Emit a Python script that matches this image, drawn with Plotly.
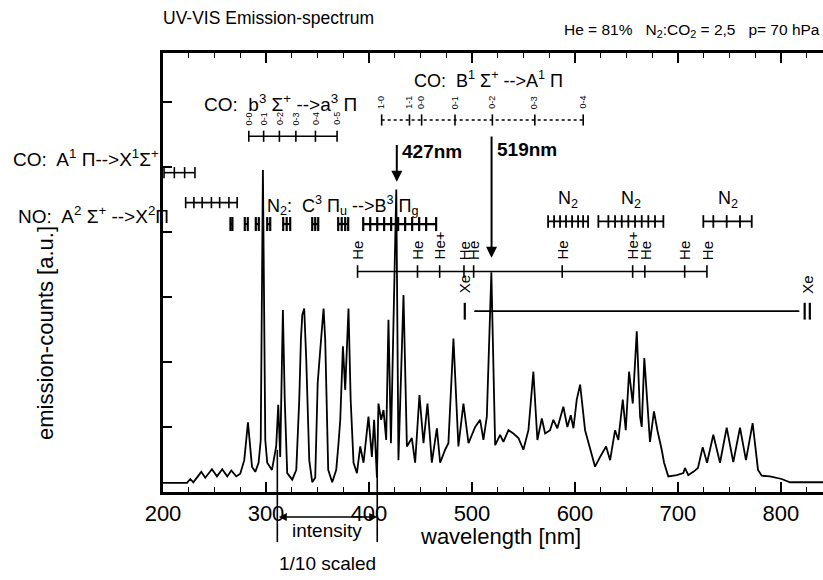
import plotly.graph_objects as go

# spectrum (wavelength in nm, counts in a.u.)
wl = [200, 223.3, 226.5, 229.4, 237.2, 241.0, 247.5, 252.4, 257.5, 262.4,
      266.3, 271.1, 275.0, 278.9, 282.5, 286.4, 289.6, 292.8, 294.9, 297.0,
      299.3, 301.2, 305.8, 309.9, 311.9, 313.8, 316.4, 318.2, 320.6, 325.5,
      329.4, 332.3, 333.9, 335.2, 337.1, 339.1, 342.0, 344.9, 347.8, 350.2,
      353.3, 355.9, 357.5, 360.4, 364.3, 368.2, 370.4, 372.1, 374.7, 376.9,
      380.1, 382.2, 385.0, 388.3, 391.5, 394.7, 399.5, 402.8, 405.0, 407.7,
      409.2, 411.8, 414.1, 416.7, 418.9, 421.3, 426.5, 428.6, 433.5, 436.8,
      441.6, 444.8, 449.0, 452.9, 456.8, 461.0, 465.9, 469.1, 473.9, 477.1,
      482.0, 486.8, 491.7, 496.6, 503.1, 507.9, 511.1, 514.4, 518.8, 522.5,
      527.3, 530.5, 535.4, 540.2, 545.1, 549.9, 554.8, 559.6, 563.5, 567.8,
      571.0, 575.8, 579.0, 582.9, 588.7, 592.6, 595.9, 598.5, 601.7, 605.0,
      609.8, 614.7, 619.5, 624.4, 630.2, 634.1, 638.9, 642.1, 646.4, 649.3,
      652.5, 656.1, 660.0, 663.2, 664.8, 667.3, 672.8, 676.7, 680.0, 684.2,
      686.5, 690.6, 698.8, 705.2, 706.8, 710.0, 714.9, 719.4, 724.0, 728.2,
      734.3, 740.8, 747.3, 753.7, 760.2, 766.0, 772.5, 777.7, 781.3, 789.3,
      800.7, 808.7, 840.8]
counts = [1.4, 1.4, 2.0, 1.5, 3.1, 2.2, 3.5, 2.4, 3.5, 2.4,
          3.3, 2.4, 2.8, 4.9, 10.7, 3.9, 3.1, 4.5, 8.0, 49.5,
          8.0, 4.5, 3.4, 7.0, 13.4, 5.4, 28.0, 14.2, 2.9, 1.9,
          3.4, 14.2, 23.4, 27.2, 28.2, 20.3, 4.9, 1.5, 2.2, 16.8,
          23.1, 28.2, 23.4, 3.4, 1.5, 3.4, 7.5, 11.1, 22.4, 15.7,
          28.2, 14.2, 4.5, 2.9, 7.0, 4.5, 11.6, 5.4, 11.1, 2.2,
          13.6, 11.1, 12.6, 8.0, 26.5, 7.5, 46.5, 4.9, 30.3, 7.0,
          8.3, 4.5, 14.9, 7.5, 13.6, 4.5, 9.8, 4.5, 6.5, 7.5,
          23.6, 7.0, 13.6, 7.5, 10.0, 11.1, 8.0, 11.6, 33.8, 7.2,
          8.8, 7.7, 9.5, 9.0, 8.3, 6.5, 9.5, 18.5, 8.0, 11.3,
          9.0, 9.5, 11.1, 9.8, 13.1, 10.0, 11.8, 9.8, 14.2, 16.5,
          9.5, 6.5, 3.9, 5.4, 7.0, 4.9, 9.5, 8.0, 14.2, 9.5,
          18.5, 13.6, 24.7, 11.6, 10.0, 20.6, 7.7, 12.4, 9.5, 6.5,
          4.5, 2.4, 2.6, 2.9, 3.7, 2.6, 3.1, 3.7, 6.9, 4.5,
          8.8, 4.5, 9.9, 4.6, 9.9, 4.9, 10.6, 3.4, 2.5, 2.4,
          2.0, 1.5, 1.5]

# band / line assignments (nm)
co_ax = [201, 211, 221, 231]
no_ax = [222, 230, 238, 247, 255, 264, 272]
n2_cb_groups = [[265.5, 267.4], [279.4, 282.3], [290.1, 293.0], [301.2, 304.1],
                [316.7, 320.1, 323.5], [344.9, 347.8, 350.7],
                [370.1, 373.5, 376.9, 379.8],
                [394.4, 401.2, 408.0, 414.7, 421.5, 428.3, 435.1, 441.9, 448.7, 455.5, 465.2]]
n2_fp_groups = [[573.9, 579.7, 585.5, 591.3, 597.2, 603.0, 607.9, 612.7],
                [622.7, 632.4, 638.9, 645.4, 651.8, 658.3, 664.8, 671.2, 677.7, 685.8],
                [724.6, 734.3, 747.3, 760.2, 771.6]]
co_ba_pos = [283.3, 297.7, 313.0, 329.0, 348.0, 369.0]
co_ba_lab = ["0-0", "0-1", "0-2", "0-3", "0-4", "0-5"]
co_angstrom_pos = [412.3, 439.3, 451.1, 483.5, 519.8, 561.0, 608.0]
co_angstrom_lab = ["1-0", "1-1", "0-0", "0-1", "0-2", "0-3", "0-4"]
he_pos = [388.9, 447.1, 468.6, 492.2, 501.6, 587.6, 656.0, 667.8, 706.5, 728.1]
he_lab = ["He", "He", "He+", "He", "He", "He", "He+", "He", "He", "He"]
xe_pos = [493.0, 823.0, 828.0]
xe_span = [503.0, 817.0]
marked = [427, 519]
scaled_range = [311, 408]

x_max = 840.8
y_max = 67.5
FONT = "Liberation Sans, Arial, sans-serif"

fig = go.Figure()

fig.add_trace(go.Scatter(x=wl, y=counts, mode="lines",
                         line=dict(color="black", width=1.8)))


def tick_row(xs, y, size=8, width=1.6, dash="solid"):
    fig.add_trace(go.Scatter(x=[min(xs), max(xs)], y=[y, y], mode="lines",
                             line=dict(color="black", width=width, dash=dash)))
    fig.add_trace(go.Scatter(x=xs, y=[y] * len(xs), mode="markers", cliponaxis=False,
                             marker=dict(symbol="line-ns", size=size,
                                         line=dict(width=width, color="black"))))


tick_row(co_ax, 49.1)
tick_row(no_ax, 44.5)
for g in n2_cb_groups:
    tick_row(g, 41.2, size=10, width=2.2)
for g in n2_fp_groups:
    tick_row(g, 41.6, size=9, width=1.8)
tick_row(co_ba_pos, 54.7)
tick_row(co_angstrom_pos, 57.2, dash="dot")
tick_row(he_pos, 33.9, size=9)
tick_row(xe_span, 27.8, size=1, width=1.8)
fig.add_trace(go.Scatter(x=xe_pos, y=[27.8] * len(xe_pos), mode="markers", cliponaxis=False,
                         marker=dict(symbol="line-ns", size=12,
                                     line=dict(width=2.2, color="black"))))

ann = []


def txt(x, y, s, size=16, xref="x", yref="y", xanchor="center", yanchor="middle",
        angle=0, bold=False):
    ann.append(dict(x=x, y=y, xref=xref, yref=yref, text=s, showarrow=False,
                    xanchor=xanchor, yanchor=yanchor, textangle=angle,
                    font=dict(family=FONT, size=size, color="black",
                              weight="bold" if bold else "normal")))


for p, l in zip(co_ba_pos, co_ba_lab):
    txt(p, 56.1, l, size=9, yanchor="bottom", angle=-90)
for p, l in zip(co_angstrom_pos, co_angstrom_lab):
    txt(p, 58.6, l, size=9, yanchor="bottom", angle=-90)
for p, l in zip(he_pos, he_lab):
    txt(p, 35.4, l, size=15, yanchor="bottom", angle=-90)
txt(xe_pos[0], 30.2, "Xe", size=15, yanchor="bottom", angle=-90)
txt((xe_pos[1] + xe_pos[2]) / 2, 30.2, "Xe", size=15, yanchor="bottom", angle=-90)

for g in n2_fp_groups:
    txt((min(g) + max(g)) / 2, 45.0, "N<sub>2</sub>", size=18)

txt(237.8, 59.8, "CO:  b<sup>3</sup> Σ<sup>+</sup> -->a<sup>3</sup> Π", size=19, xanchor="left")
txt(441.6, 63.4, "CO:  B<sup>1</sup> Σ<sup>+</sup> -->A<sup>1</sup> Π", size=18, xanchor="left")
txt(299.4, 44.0, "N<sub>2</sub>:  C<sup>3</sup> Π<sub>u</sub> -->B<sup>3</sup> Π<sub>g</sub>",
    size=18, xanchor="left")
txt(-0.003, 51.3, "CO:  A<sup>1</sup> Π-->X<sup>1</sup>Σ<sup>+</sup>", size=19,
    xref="paper", xanchor="right")
txt(0.012, 42.6, "NO:  A<sup>2</sup> Σ<sup>+</sup> -->X<sup>2</sup>Π", size=19,
    xref="paper", xanchor="right")

# marked lines with arrows
txt(marked[0] + 3, 52.3, "427nm", size=19, xanchor="left", bold=True)
txt(marked[1] + 3, 52.6, "519nm", size=19, xanchor="left", bold=True)
for m, top, tip in zip(marked, [53.6, 54.9], [47.7, 36.0]):
    ann.append(dict(x=m, y=tip, ax=m, ay=top, xref="x", yref="y", axref="x", ayref="y",
                    text="", showarrow=True, arrowhead=2, arrowsize=1.1,
                    arrowwidth=2, arrowcolor="black"))

# intensity scaled bracket under the axis
fx = [(v - 200) / (x_max - 200) for v in scaled_range]
shapes = [dict(type="line", xref="paper", yref="paper", x0=f, x1=f, y0=0.096, y1=-0.114,
               line=dict(color="black", width=1.6)) for f in fx]
ann.append(dict(x=scaled_range[1], y=-0.057, ax=scaled_range[0], ay=0, xref="x", yref="paper",
                axref="x", ayref="pixel", text="", showarrow=True, arrowhead=2,
                startarrowhead=2, arrowside="end+start", arrowsize=1, arrowwidth=1.6,
                arrowcolor="black"))
txt(sum(fx) / 2, -0.088, "intensity", size=19, xref="paper", yref="paper")
txt(sum(fx) / 2, -0.162, "1/10 scaled", size=19, xref="paper", yref="paper")

# axis titles, title and conditions
txt(0.511, -0.102, "wavelength [nm]", size=22, xref="paper", yref="paper")
txt(-0.179, 0.362, "emission-counts [a.u.]", size=22, xref="paper", yref="paper", angle=-90)
txt(1.0, 1.052, "He = 81%   N<sub>2</sub>:CO<sub>2</sub> = 2,5   p= 70 hPa", size=15.5,
    xref="paper", yref="paper", xanchor="right")
ann[-1]["xshift"] = -1

fig.update_layout(
    width=823, height=580,
    margin=dict(l=163, r=0, t=53, b=88),
    paper_bgcolor="white", plot_bgcolor="white",
    showlegend=False,
    title=dict(text="UV-VIS Emission-spectrum", x=163 / 823, xanchor="left",
               y=1 - 18 / 580, yanchor="middle",
               font=dict(family=FONT, size=17.5, color="black")),
    xaxis=dict(range=[200, x_max], tickvals=[200, 300, 400, 500, 600, 700, 800],
               ticks="inside", ticklen=10, tickwidth=1.6, tickcolor="black",
               minor=dict(dtick=25, tick0=200, ticks="inside", ticklen=5, tickwidth=1.4,
                          tickcolor="black"),
               showline=True, linewidth=2.5, linecolor="black", mirror="ticks",
               showgrid=False, zeroline=False,
               tickfont=dict(family=FONT, size=22, color="black")),
    yaxis=dict(range=[0, y_max], dtick=10, ticks="inside", ticklen=9, tickwidth=1.6,
               tickcolor="black", showticklabels=False, showline=True, linewidth=2.5,
               linecolor="black", showgrid=False, zeroline=False),
    yaxis2=dict(overlaying="y", side="right", range=[0, y_max], dtick=20, ticks="inside",
                ticklen=4, tickwidth=1.4, tickcolor="black", showticklabels=False,
                showline=False, showgrid=False, zeroline=False),
    annotations=ann,
    shapes=shapes,
)

# the page body has a default 8px margin; drop it so the figure fills the window
fig.write_html("out.html", config={"displayModeBar": False},
               post_script="document.body.style.margin='0';")
